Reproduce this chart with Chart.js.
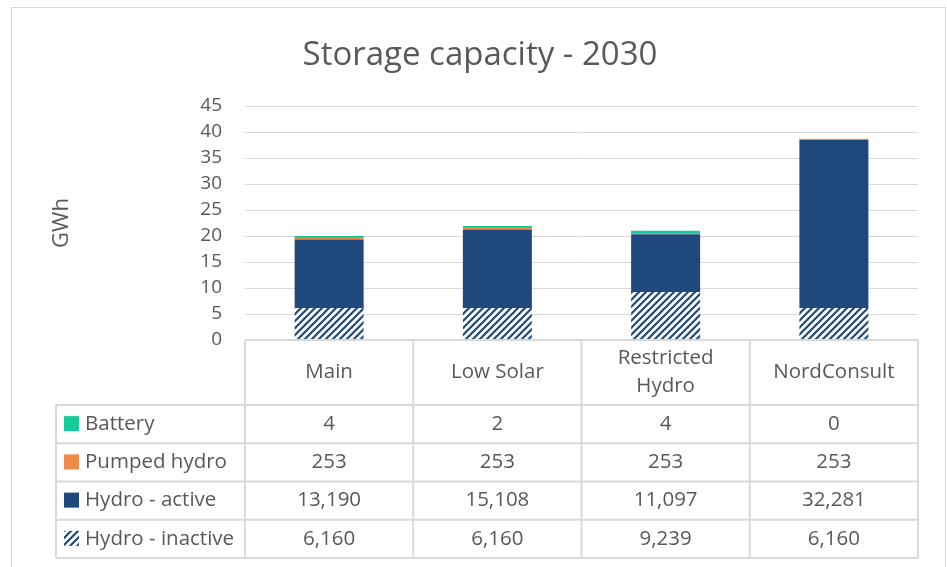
<!DOCTYPE html>
<html>
<head>
<meta charset="utf-8">
<script src="https://cdn.jsdelivr.net/npm/chart.js@4/dist/chart.umd.min.js"></script>
<style>
  body { margin: 0; background: #fff; }
  #wrap { width: 947px; height: 567px; }
</style>
</head>
<body>
<div id="wrap"><canvas id="myChart" width="947" height="567"></canvas></div>
<script>
// categories (scenarios)
let scenarios = ['Main', 'Low Solar', ['Restricted', 'Hydro'], 'NordConsult'];

// values shown in the data table (MWh)
let battery = [4, 2, 4, 0];
let pumpedHydro = [253, 253, 253, 253];
let hydroActive = [13190, 15108, 11097, 32281];
let hydroInactive = [6160, 6160, 9239, 6160];

// battery bar height as it appears in the plot (GWh)
let batteryBar = [0.4, 0.4, 0.4, 0];

let yTicks = [0, 5, 10, 15, 20, 25, 30, 35, 40, 45];

let toGWh = arr => arr.map(v => v / 1000);

let textColor = '#595959';
let lineColor = '#d9d9d9';
let fontFamily = '"Open Sans", sans-serif';

let green = '#14cc99';
let orange = '#f08a4b';
let blue = '#1f497d';

// wide upward diagonal hatch for the inactive hydro
let makeHatch = function () {
    let s = 7;
    let c = document.createElement('canvas');
    c.width = s;
    c.height = s;
    let g = c.getContext('2d');
    g.fillStyle = '#ffffff';
    g.fillRect(0, 0, s, s);
    g.strokeStyle = blue;
    g.lineWidth = 2.2;
    g.beginPath();
    g.moveTo(-s, 2 * s); g.lineTo(2 * s, -s);
    g.moveTo(-s, s); g.lineTo(s, -s);
    g.moveTo(0, 2 * s); g.lineTo(2 * s, 0);
    g.stroke();
    return g.createPattern(c, 'repeat');
};
let hatch = makeHatch();

// rows of the table, top to bottom
let tableRows = [
    { label: 'Battery', values: battery, swatch: green },
    { label: 'Pumped hydro', values: pumpedHydro, swatch: orange },
    { label: 'Hydro - active', values: hydroActive, swatch: blue },
    { label: 'Hydro - inactive', values: hydroInactive, swatch: hatch }
];

let fmt = v => v.toLocaleString('en-US');

let frame = {
    id: 'frame',
    afterLayout(chart) {
        // centre the title on the whole chart frame, not only the padded box
        if (chart.titleBlock) {
            chart.titleBlock.left = 13;
            chart.titleBlock.right = 947;
        }
    },
    beforeDraw(chart) {
        let ctx = chart.ctx;
        ctx.save();
        ctx.fillStyle = '#fff';
        ctx.fillRect(0, 0, chart.width, chart.height);
        ctx.strokeStyle = lineColor;
        ctx.lineWidth = 1;
        ctx.strokeRect(11.5, 7.5, 934, 600);
        ctx.restore();
    }
};

let dataTable = {
    id: 'dataTable',
    afterDraw(chart) {
        let ctx = chart.ctx;
        let x = chart.scales.x;
        let n = scenarios.length;
        let step = (x.right - x.left) / n;
        let top = x.top;
        let headBottom = top + 65;
        let rowH = (x.bottom - headBottom) / tableRows.length;
        let legendLeft = x.left - 189;

        ctx.save();
        ctx.strokeStyle = lineColor;
        ctx.lineWidth = 2;
        ctx.beginPath();
        // header top and column lines
        ctx.moveTo(x.left, top); ctx.lineTo(x.right, top);
        for (let i = 0; i <= n; i++) {
            let cx = x.left + i * step;
            ctx.moveTo(cx, top); ctx.lineTo(cx, x.bottom);
        }
        // row lines
        for (let r = 0; r <= tableRows.length; r++) {
            let ry = headBottom + r * rowH;
            ctx.moveTo(legendLeft, ry); ctx.lineTo(x.right, ry);
        }
        ctx.moveTo(legendLeft, headBottom); ctx.lineTo(legendLeft, x.bottom);
        ctx.stroke();

        ctx.fillStyle = textColor;
        ctx.font = '20.5px ' + fontFamily;
        ctx.textAlign = 'center';
        ctx.textBaseline = 'middle';

        // header labels
        scenarios.forEach((lab, i) => {
            let cx = x.getPixelForValue(i);
            let lines = Array.isArray(lab) ? lab : [lab];
            let lh = 28;
            let y0 = (top + headBottom) / 2 - (lines.length - 1) * lh / 2;
            lines.forEach((t, k) => ctx.fillText(t, cx, y0 + k * lh));
        });

        // rows
        tableRows.forEach((row, r) => {
            let cy = headBottom + r * rowH + rowH / 2;
            ctx.fillStyle = row.swatch;
            ctx.fillRect(legendLeft + 8, cy - 8, 15, 15);
            ctx.fillStyle = textColor;
            ctx.textAlign = 'left';
            ctx.fillText(row.label, legendLeft + 29, cy);
            ctx.textAlign = 'center';
            row.values.forEach((v, i) => {
                ctx.fillText(fmt(v), x.getPixelForValue(i), cy);
            });
        });
        ctx.restore();
    }
};

let ctx = document.getElementById('myChart').getContext('2d');

let chart = new Chart(ctx, {
    type: 'bar',
    data: {
        labels: scenarios,
        datasets: [
            {
                label: 'Hydro - inactive',
                data: toGWh(hydroInactive),
                backgroundColor: hatch
            },
            {
                label: 'Hydro - active',
                data: toGWh(hydroActive),
                backgroundColor: blue
            },
            {
                label: 'Pumped hydro',
                data: toGWh(pumpedHydro),
                backgroundColor: orange
            },
            {
                label: 'Battery',
                data: batteryBar,
                backgroundColor: green
            }
        ]
    },
    options: {
        responsive: false,
        animation: false,
        layout: { padding: { left: 0, right: 29, top: 0, bottom: 9 } },
        datasets: {
            bar: { categoryPercentage: 1, barPercentage: 0.41 }
        },
        plugins: {
            legend: { display: false },
            tooltip: { enabled: false },
            title: {
                display: true,
                text: 'Storage capacity - 2030',
                color: textColor,
                font: { family: fontFamily, size: 33, weight: 'normal' },
                padding: { top: 36, bottom: 30.4 }
            }
        },
        scales: {
            x: {
                stacked: true,
                grid: { display: false },
                border: { display: false },
                ticks: { display: false },
                afterFit: s => { s.height = 218; }
            },
            y: {
                stacked: true,
                min: 0,
                max: 45,
                afterBuildTicks: s => { s.ticks = yTicks.map(v => ({ value: v })); },
                grid: { color: lineColor, drawTicks: false },
                border: { display: false },
                ticks: {
                    padding: 23,
                    color: textColor,
                    font: { family: fontFamily, size: 19 }
                },
                title: {
                    display: true,
                    text: 'GWh',
                    color: textColor,
                    font: { family: fontFamily, size: 22 },
                    padding: { top: 49, bottom: 0 }
                },
                afterFit: s => { s.width = 245; }
            }
        }
    },
    plugins: [frame, dataTable]
});
</script>
</body>
</html>
